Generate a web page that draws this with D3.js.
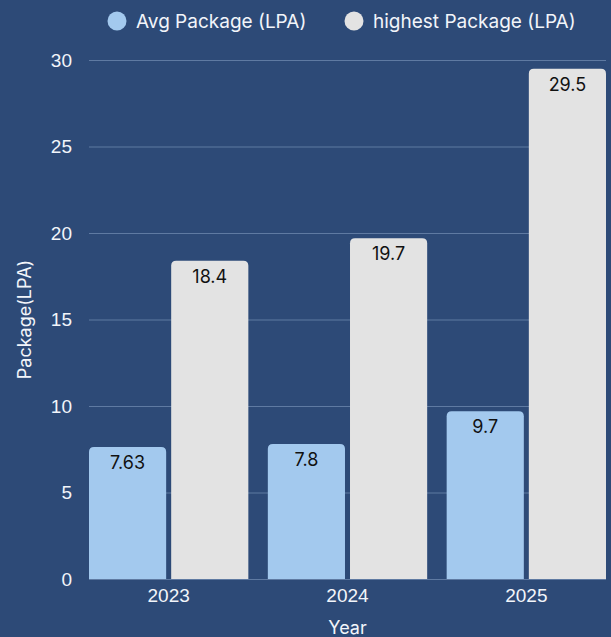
<!DOCTYPE html>
<html>
<head>
<meta charset="utf-8">
<script src="https://cdn.jsdelivr.net/npm/d3@7"></script>
<style>
  html, body { margin: 0; padding: 0; background: #2d4a77; }
  svg { display: block; font-family: Inter, "DejaVu Sans", sans-serif; }
</style>
</head>
<body>
<div id="chart"></div>
<script>
// Data
const years = ["2023", "2024", "2025"]
const seriesNames = ["Avg Package (LPA)", "highest Package (LPA)"]
const avgPackage = [7.63, 7.8, 9.7]
const highestPackage = [18.4, 19.7, 29.5]
const yTicks = [0, 5, 10, 15, 20, 25, 30]

const colors = ["#a3c9ee", "#e3e3e3"]
const width = 611, height = 637
const margin = { top: 60, right: 5, bottom: 58, left: 89 }
const textColor = "#f2f5fa"

// Create SVG
const svg = d3.select("#chart").append("svg")
  .attr("width", width)
  .attr("height", height)
svg.append("rect").attr("width", width).attr("height", height).attr("fill", "#2d4a77")

// Scales
const x = d3.scaleBand().domain(years)
  .range([margin.left, width - margin.right])
  .paddingInner(0.109).paddingOuter(0)
const xs = d3.scaleBand().domain(seriesNames)
  .range([0, x.bandwidth()])
  .paddingInner(0.061)
const y = d3.scaleLinear().domain([0, 30]).range([height - margin.bottom, margin.top])

// Y axis with grid
svg.append("g")
  .attr("transform", `translate(${margin.left},0)`)
  .call(d3.axisLeft(y).tickValues(yTicks).tickSize(-(width - margin.left - margin.right)).tickPadding(17))
  .call(g => g.select(".domain").remove())
  .call(g => g.selectAll(".tick line").attr("stroke", "#5f7aa2").attr("stroke-width", 1))
  .call(g => g.selectAll(".tick text").attr("fill", textColor).style("font-size", "19px"))

// Bars
const rows = years.map((yr, i) => ({ year: yr, values: [avgPackage[i], highestPackage[i]] }))
const r = 5
function topRounded(x0, y0, w, h) {
  return `M${x0},${y0 + h}V${y0 + r}Q${x0},${y0} ${x0 + r},${y0}H${x0 + w - r}Q${x0 + w},${y0} ${x0 + w},${y0 + r}V${y0 + h}Z`
}
const groups = svg.append("g").selectAll("g")
  .data(rows)
  .join("g")
  .attr("transform", d => `translate(${x(d.year)},0)`)
groups.each(function (d) {
  const g = d3.select(this)
  d.values.forEach((v, j) => {
    const bx = xs(seriesNames[j]), bw = xs.bandwidth()
    const by = y(v), bh = y(0) - y(v)
    g.append("path")
      .attr("d", topRounded(bx, by, bw, bh))
      .attr("fill", colors[j])
    g.append("text")
      .attr("x", bx + bw / 2)
      .attr("y", by + 22)
      .attr("text-anchor", "middle")
      .attr("fill", "#111")
      .style("font-size", "18px")
      .text(v)
  })
})

// X axis
svg.append("g")
  .attr("transform", `translate(0,${height - margin.bottom})`)
  .call(d3.axisBottom(x).tickSize(0).tickPadding(10))
  .call(g => g.select(".domain").remove())
  .call(g => g.selectAll(".tick text").attr("fill", textColor).style("font-size", "19px"))

// Axis titles
svg.append("text")
  .attr("x", margin.left + (width - margin.left - margin.right) / 2)
  .attr("y", 634)
  .attr("text-anchor", "middle")
  .attr("fill", textColor)
  .style("font-size", "18px")
  .text("Year")
svg.append("text")
  .attr("transform", `translate(31,${(y(0) + y(30)) / 2}) rotate(-90)`)
  .attr("text-anchor", "middle")
  .attr("fill", textColor)
  .style("font-size", "18px")
  .text("Package(LPA)")

// Legend
const legendX = [117, 354]
const legend = svg.append("g").selectAll("g")
  .data(seriesNames)
  .join("g")
  .attr("transform", (d, i) => `translate(${legendX[i]},21)`)
legend.append("circle").attr("r", 9.5).attr("fill", (d, i) => colors[i])
legend.append("text")
  .attr("x", 19)
  .attr("dy", "0.35em")
  .attr("fill", textColor)
  .style("font-size", "19px")
  .text(d => d)
</script>
</body>
</html>
